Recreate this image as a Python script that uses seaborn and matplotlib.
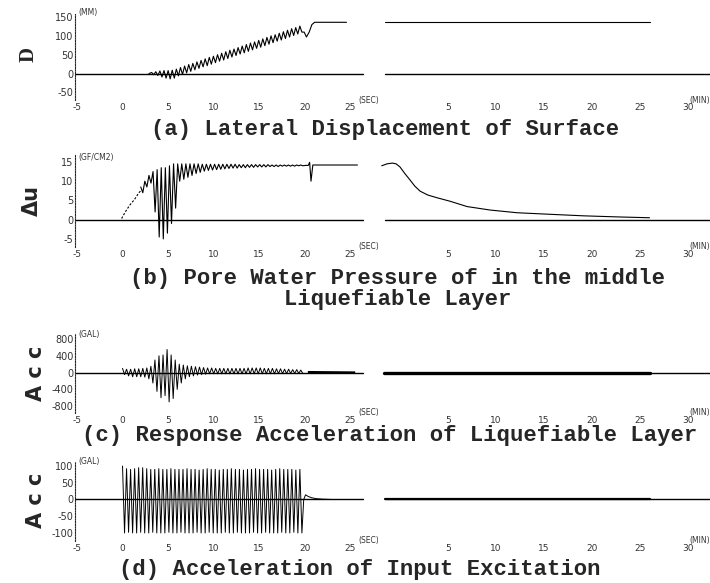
import numpy as np
import pandas as pd
import seaborn as sns
import matplotlib.pyplot as plt

# ---------------- data ----------------
# (a) lateral displacement of surface (MM)
a_yticks = [150, 100, 50, 0, -50]
a_osc_span = [3.2, 19.7]            # sec
a_hi = [3, 5, 7, 8, 8, 9, 12, 16, 20, 24, 27, 31, 35, 39, 43, 46, 50, 54, 58, 62,
        65, 69, 73, 77, 81, 84, 88, 92, 96, 100, 103, 107, 111, 115, 119, 122, 126]
a_lo = [-3, -5, -9, -12, -14, -12, -6, -2, 2, 6, 10, 14, 18, 21, 25, 29, 33, 36, 40, 44,
        48, 52, 55, 59, 63, 67, 70, 74, 78, 82, 86, 89, 93, 97, 101, 105, 110]
a_lead_t = [2.9]
a_lead_v = [0]
a_tail_t = [19.95, 20.2, 20.5, 20.8, 21.1, 24.6]
a_tail_v = [110, 97, 110, 130, 136, 136]
a_min_t = [-1.6, 26.1]              # min
a_min_v = [136, 136]

# (b) pore water pressure (GF/CM2)
b_yticks = [15, 10, 5, 0, -5]
b_rise_t = [-0.1, 0.3, 0.8, 1.3, 1.8, 2.0]
b_rise_v = [0.3, 2.0, 3.8, 5.2, 7.0, 7.5]
b_osc_span = [2.0, 19.8]
b_hi = [8.5, 10.0, 11.5, 12.5, 13.0, 13.5, 13.5, 14.0, 14.5, 14.5, 14.5, 14.5, 14.5, 14.5,
        14.5, 14.4, 14.4, 14.4, 14.4, 14.4, 14.4, 14.4, 14.4, 14.4, 14.3, 14.3, 14.3, 14.3,
        14.3, 14.3, 14.3, 14.3, 14.2, 14.2, 14.2, 14.2, 14.2, 14.2, 14.2, 14.2]
b_lo = [7.0, 8.5, 9.5, 2.0, -4.5, -5.0, -3.5, -1.0, 3.0, 10.0, 10.5, 11.0, 11.5, 12.0,
        12.3, 12.6, 12.8, 12.9, 13.0, 13.1, 13.2, 13.3, 13.4, 13.4, 13.5, 13.5, 13.6, 13.6,
        13.7, 13.7, 13.7, 13.8, 13.8, 13.8, 13.9, 13.9, 13.9, 13.9, 14.0, 14.0]
b_tail_t = [20.1, 20.4, 20.55, 20.7, 20.9, 25.8]
b_tail_v = [14.1, 14.1, 14.9, 10.0, 14.2, 14.2]
b_min_t = [-1.9, -1.35, -0.8, -0.4, 0.0, 0.5, 1.05, 1.55, 2.1, 2.9, 3.85, 5.2, 7.0,
           9.4, 12.2, 15.6, 19.1, 22.9, 26.0]
b_min_v = [14.0, 14.5, 14.7, 14.5, 13.7, 12.0, 10.3, 8.7, 7.4, 6.4, 5.7, 4.8, 3.4,
           2.5, 1.8, 1.4, 1.0, 0.7, 0.5]

# (c) response acceleration of liquefiable layer (GAL)
c_yticks = [800, 400, 0, -400, -800]
c_osc_span = [0.0, 19.8]
c_hi = [100, 80, 80, 90, 90, 100, 110, 150, 300, 400, 420, 550, 420, 300, 200, 180,
        160, 150, 140, 130, 120, 110, 110, 100, 100, 100, 100, 100, 100, 100, 100, 110,
        110, 110, 110, 100, 100, 100, 90, 90, 80, 80, 70, 70, 60]
c_lo = [-50, -80, -100, -100, -100, -110, -150, -250, -450, -600, -550, -700, -620,
        -400, -250, -150, -100, -80, -60, -50, -40, -30, -30, -30, -30, -30, -30, -30,
        -30, -30, -30, -30, -30, -30, -30, -30, -30, -30, -25, -25, -25, -20, -20, -20, -20]
c_band_t = [20.3, 25.5]
c_band_hi = [50, 40]
c_band_lo = [-10, -10]
c_min_span = [-1.7, 26.0]

# (d) acceleration of input excitation (GAL)
d_yticks = [100, 50, 0, -50, -100]
d_osc_span = [0.0, 19.7]
d_hi = [100, 92, 90, 92, 95, 95, 92, 90, 90, 92, 90, 90, 92, 90, 90, 90, 92, 90, 90,
        88, 90, 92, 90, 90, 88, 90, 90, 92, 90, 90, 88, 90, 90, 92, 90, 90, 90, 88, 90,
        92, 90, 90, 90, 88, 90]
d_lo = [-100, -98, -100, -100, -98, -100, -100, -98, -100, -100, -100, -98, -100, -100,
        -98, -100, -100, -100, -98, -100, -100, -98, -100, -100, -100, -98, -100, -100,
        -98, -100, -100, -100, -98, -100, -100, -98, -100, -100, -100, -98, -100, -100,
        -98, -100, -100]
d_tail_t = [19.9, 20.1, 20.4, 20.8, 21.3, 22.0, 23.0]
d_tail_v = [0, 14, 9, 5, 2.5, 1, 0]
d_min_span = [-1.6, 26.0]

units = ["(MM)", "(GF/CM2)", "(GAL)", "(GAL)"]
ylabels = ["D", "Δu", "A c c", "A c c"]
titles = ["(a) Lateral Displacement of Surface",
          "(b) Pore Water Pressure of in the middle\nLiquefiable Layer",
          "(c) Response Acceleration of Liquefiable Layer",
          "(d) Acceleration of Input Excitation"]
sec_labels = [-5, 0, 5, 10, 15, 20, 25]
min_labels = [5, 10, 15, 20, 25, 30]
zero_sec = [-5.2, 26.4]
zero_min = [-1.6, 32.4]


def zigzag(span, hi, lo):
    n = min(len(hi), len(lo))
    t = np.linspace(span[0], span[1], 2 * n)
    v = np.column_stack([hi[:n], lo[:n]]).ravel()
    return t, v


def trace(ax, t, v, lw=0.8, ls="-"):
    df = pd.DataFrame({"t": t, "v": v})
    sns.lineplot(data=df, x="t", y="v", ax=ax, color="black", linewidth=lw,
                 linestyle=ls, estimator=None, sort=False)


sns.set_style("white")
plt.rcParams["font.family"] = ["DejaVu Sans"]

W, H = 710, 583
fig = plt.figure(figsize=(7.1, 5.83), dpi=100)


def box(x0, x1, y0, y1):
    return fig.add_axes([x0 / W, 1 - y1 / H, (x1 - x0) / W, (y1 - y0) / H])


rows_px = [(14, 100), (155, 247), (334, 413), (462, 541)]
ylims = [(-70, 158), (-7.1, 16.8), (-965, 920), (-124, 112)]
yticks = [a_yticks, b_yticks, c_yticks, d_yticks]
title_pos = [(385, 129), (398, 289), (390, 436), (360, 569)]
ylab_pos = [(29, 55), (32, 201), (36, 373), (36, 500)]

for r in range(4):
    y0, y1 = rows_px[r]
    axl = box(75, 372, y0, y1)
    axr = box(378, 710, y0, y1)
    for ax in (axl, axr):
        ax.set_ylim(*ylims[r])
        for s in ax.spines.values():
            s.set_visible(False)
        ax.tick_params(axis="x", which="both", direction="in", width=0.8,
                       labelsize=6.5, pad=2.5, colors="#333")
        ax.tick_params(axis="x", which="major", length=4)
        ax.tick_params(axis="x", which="minor", length=2.5)
        ax.set_facecolor("white")
    axl.set_xlim(-5.22, 27.4)
    axr.set_xlim(-2.29, 32.3)

    # zero lines
    axl.plot(zero_sec, [0, 0], color="black", lw=1.0)
    axr.plot(zero_min, [0, 0], color="black", lw=1.0)

    # left axis
    axl.spines["left"].set_visible(True)
    axl.spines["left"].set_linestyle((0, (1.2, 1.2)))
    axl.spines["left"].set_linewidth(0.8)
    axl.set_yticks(yticks[r])
    axl.set_yticklabels([str(v) for v in yticks[r]])
    axl.tick_params(axis="y", direction="in", length=4, width=0.8, labelsize=7,
                    pad=1, colors="#333")
    axr.set_yticks([])

    axl.set_xticks(sec_labels)
    axl.set_xticklabels([str(v) for v in sec_labels])
    axl.set_xticks(list(range(-5, 27)), minor=True)
    axr.set_xticks(min_labels)
    axr.set_xticklabels([str(v) for v in min_labels])
    axr.set_xticks(list(range(0, 31)), minor=True)

    axl.text(25.9, 0.0, "(SEC)", transform=axl.get_xaxis_transform(),
             fontsize=5.5, va="center", ha="left", color="#333")
    axr.text(0.999, 0.0, "(MIN)", transform=axr.transAxes,
             fontsize=5.5, va="center", ha="right", color="#333")
    axl.text(-4.85, yticks[r][0], units[r], fontsize=5.5, va="bottom", ha="left",
             color="#333")

    fig.text(ylab_pos[r][0] / W, 1 - ylab_pos[r][1] / H, ylabels[r], rotation=90,
             fontsize=15, fontweight="bold", ha="center", va="center",
             family=["Liberation Serif"] if r == 0 else ["DejaVu Sans"])
    fig.text(title_pos[r][0] / W, 1 - title_pos[r][1] / H, titles[r], fontsize=16,
             fontweight="bold", ha="center", va="center", multialignment="center",
             family=["Liberation Mono"], linespacing=1.05)

    if r == 0:
        t, v = zigzag(a_osc_span, a_hi, a_lo)
        trace(axl, np.r_[a_lead_t, t, a_tail_t], np.r_[a_lead_v, v, a_tail_v])
        trace(axr, a_min_t, a_min_v)
    elif r == 1:
        trace(axl, b_rise_t, b_rise_v, ls=(0, (2, 1.5)))
        t, v = zigzag(b_osc_span, b_hi, b_lo)
        trace(axl, np.r_[t, b_tail_t], np.r_[v, b_tail_v])
        trace(axr, b_min_t, b_min_v)
    elif r == 2:
        t, v = zigzag(c_osc_span, c_hi, c_lo)
        trace(axl, t, v, lw=0.7)
        axl.fill_between(c_band_t, c_band_lo, c_band_hi, color="black", lw=0)
        axr.plot(c_min_span, [0, 0], color="black", lw=2.4)
    else:
        t, v = zigzag(d_osc_span, d_hi, d_lo)
        trace(axl, np.r_[t, d_tail_t], np.r_[v, d_tail_v], lw=0.7)
        axr.plot(d_min_span, [0, 0], color="black", lw=1.6)

    for ax in (axl, axr):
        ax.set_xlabel("")
        ax.set_ylabel("")

fig.savefig("out.png", dpi=100, facecolor="white")
